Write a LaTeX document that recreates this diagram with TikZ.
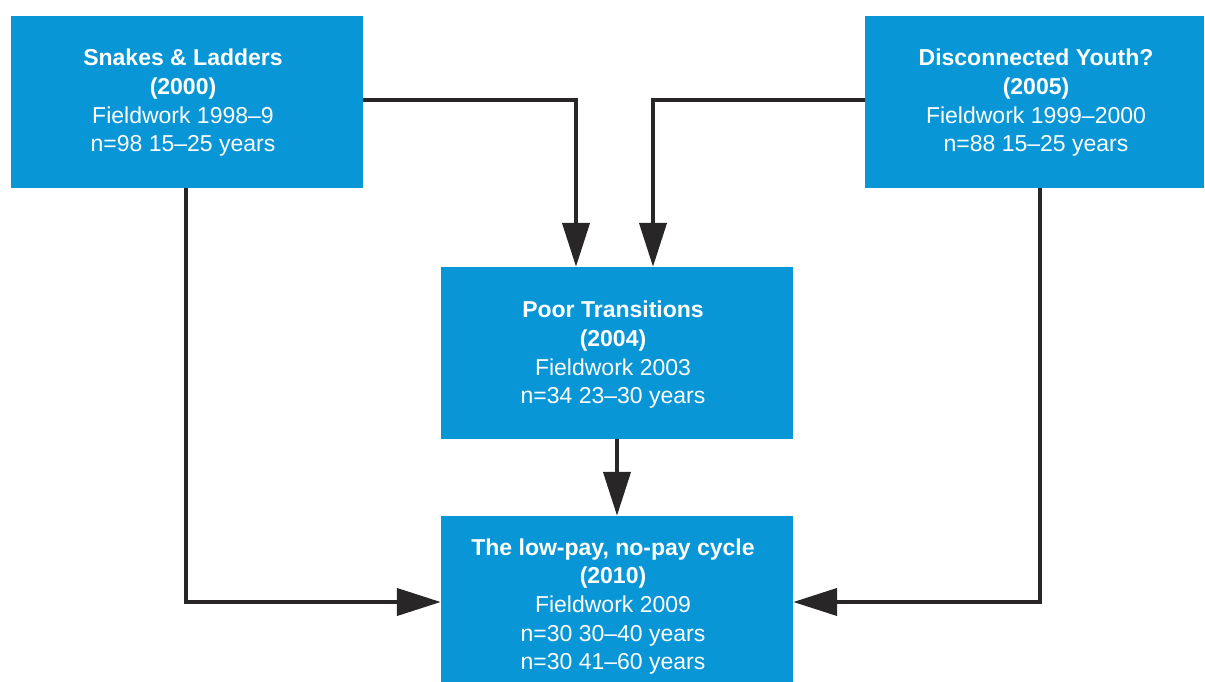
\documentclass[tikz,border=0pt]{standalone}
\usepackage{fontspec}
\setmainfont{Liberation Sans}
\usetikzlibrary{arrows.meta}
\definecolor{boxblue}{RGB}{8,150,214}
\definecolor{linkgray}{RGB}{40,38,39}
\tikzset{
  study/.style={fill=boxblue, draw=none, inner sep=0pt},
  studytext/.style={text=white, align=center, inner sep=0pt,
    font=\fontsize{23pt}{28.7pt}\selectfont},
  link/.style={draw=linkgray, line width=4.2pt,
    -{Triangle[length=44pt,width=27pt]}}
}
\begin{document}
\begin{tikzpicture}[x=1pt,y=-1pt]
  \useasboundingbox (0,0) rectangle (1205,682);

  \node[study, minimum width=352pt, minimum height=172pt,
    label={[studytext, xshift=-4pt, yshift=-1pt]center:{\textbf{Snakes \& Ladders}\\\textbf{(2000)}\\Fieldwork 1998–9\\n=98 15–25 years}}]
    (snakes) at (187,102) {};
  \node[study, minimum width=339pt, minimum height=172pt,
    label={[studytext, xshift=1.5pt, yshift=-1pt]center:{\textbf{Disconnected Youth?}\\\textbf{(2005)}\\Fieldwork 1999–2000\\n=88 15–25 years}}]
    (youth) at (1034.5,102) {};
  \node[study, minimum width=352pt, minimum height=172pt,
    label={[studytext, xshift=-4pt, yshift=-2pt]center:{\textbf{Poor Transitions}\\\textbf{(2004)}\\Fieldwork 2003\\n=34 23–30 years}}]
    (poor) at (617,353) {};
  \node[study, minimum width=352pt, minimum height=166pt,
    label={[studytext, xshift=-4pt, yshift=-7.5pt]center:{\textbf{The low-pay, no-pay cycle}\\\textbf{(2010)}\\Fieldwork 2009\\n=30 30–40 years\\n=30 41–60 years}}]
    (cycle) at (617,599) {};

  % connectors into the middle study
  \draw[link] ([yshift=2pt]snakes.east) -| ([xshift=-41pt]poor.north);
  \draw[link] ([yshift=2pt]youth.west) -| ([xshift=36pt]poor.north);
  % middle study down to the latest one
  \draw[link] (poor.south) -- (cycle.north);
  % outer connectors into the latest study
  \draw[link] ([xshift=-1pt]snakes.south) |- ([yshift=-3pt]cycle.west);
  \draw[link] ([xshift=5.5pt]youth.south) |- ([yshift=-3pt]cycle.east);
\end{tikzpicture}
\end{document}
